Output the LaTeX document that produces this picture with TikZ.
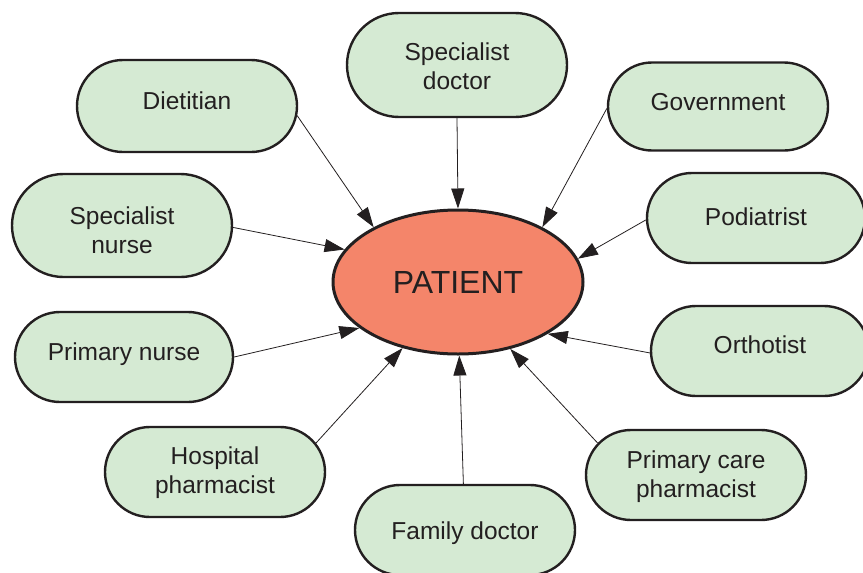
\documentclass[tikz,border=0pt]{standalone}
\usepackage{fontspec}
\setmainfont{Liberation Sans}
\usetikzlibrary{shapes.misc,shapes.geometric,arrows.meta}
\definecolor{boxfill}{HTML}{D5EAD3}
\definecolor{edgecol}{HTML}{231F20}
\definecolor{patfill}{HTML}{F4856A}
\newcommand{\twoline}[2]{\begin{tabular}{@{}c@{}}#1\\#2\end{tabular}}
\newcommand{\lift}[2]{\raisebox{#1}[\height][\depth]{#2}}
\begin{document}
\begin{tikzpicture}[x=1pt,y=-1pt,
  role/.style={rounded rectangle, draw=edgecol, line width=2.4pt, fill=boxfill,
    minimum width=220pt, minimum height=90pt, inner sep=0pt, align=center,
    font=\fontsize{24.5}{29}\selectfont, text=edgecol},
  pat/.style={ellipse, draw=edgecol, line width=3pt, fill=patfill,
    minimum width=250pt, minimum height=144pt, inner sep=0pt,
    font=\fontsize{32}{38}\selectfont, text=edgecol},
  conn/.style={draw=edgecol, line width=0.8pt, -{Triangle[length=20pt,width=13pt]}}]
\useasboundingbox (0,0) rectangle (863,573);
\node[pat] (patient) at (458,282) {PATIENT};
\node[role, minimum height=104pt] (sdoc) at (457,65) {\lift{-4.5pt}{\twoline{Specialist}{doctor}}};
\node[role, minimum height=92pt] (diet) at (187,106) {\lift{5.5pt}{Dietitian}};
\node[role, minimum height=88pt] (gov) at (718,106.5) {\lift{4.5pt}{Government}};
\node[role, minimum height=103pt] (snurse) at (122,225.5) {\lift{-7.5pt}{\twoline{Specialist}{nurse}}};
\node[role, minimum width=218pt] (pod) at (756,218) {\lift{1pt}{Podiatrist}};
\node[role, minimum width=218pt] (pnurse) at (124,357) {\lift{2.5pt}{Primary nurse}};
\node[role, minimum width=218pt] (orth) at (760,351) {\lift{6pt}{Orthotist}};
\node[role] (hosp) at (215,472) {\lift{-1.5pt}{\twoline{Hospital}{pharmacist}}};
\node[role] (pcp) at (696,475) {\lift{-2pt}{\twoline{Primary care}{pharmacist}}};
\node[role] (fam) at (465,530) {\lift{-3pt}{Family doctor}};
\draw[conn] (diet.-5) -- (patient.147);
\draw[conn] (sdoc.south) -- (patient.90);
\draw[conn] (gov.181) -- (patient.33.5);
\draw[conn] (pod.181) -- (patient.11);
\draw[conn] (orth.181) -- (patient.-30);
\draw[conn] (pcp.162) -- (patient.-52);
\draw[conn] (fam.92) -- (patient.-89);
\draw[conn] (hosp.16) -- (patient.-130);
\draw[conn] (pnurse.east) -- (patient.205);
\draw[conn] (snurse.-1) -- (patient.164);
\end{tikzpicture}
\end{document}
